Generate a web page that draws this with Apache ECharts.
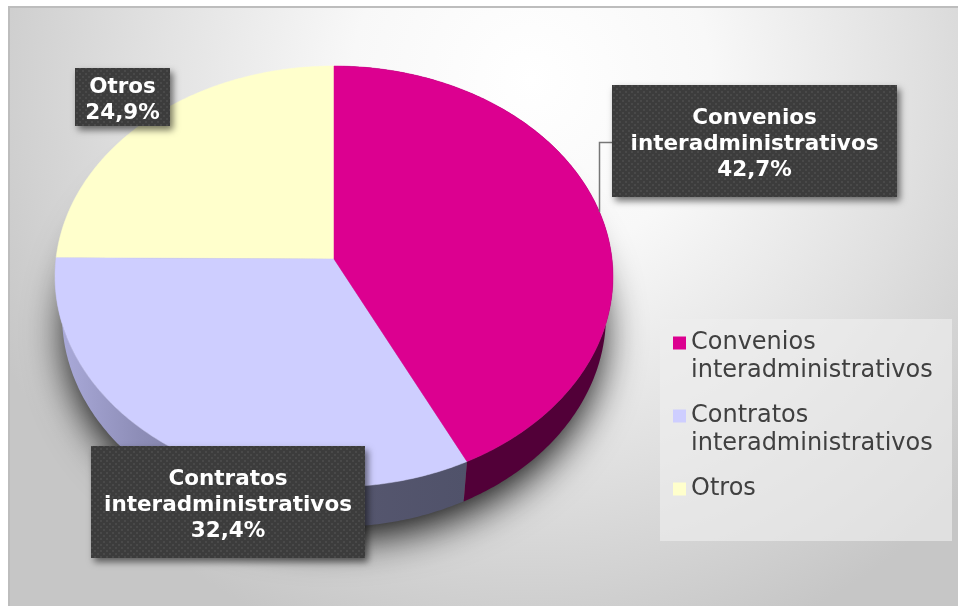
<!DOCTYPE html>
<html>
<head>
<meta charset="utf-8">
<style>html,body{margin:0;padding:0;background:#fff}#c{width:958px;height:606px}</style>
<script src="https://cdn.jsdelivr.net/npm/echarts@6/dist/echarts.min.js"></script>
</head>
<body>
<div id="c"></div>
<script>
const categories = ['Convenios interadministrativos', 'Contratos interadministrativos', 'Otros'];
const legendNames = ['Convenios\ninteradministrativos', 'Contratos\ninteradministrativos', 'Otros'];
const labelNames = ['Convenios\ninteradministrativos', 'Contratos\ninteradministrativos', 'Otros'];
const shares = [42.7, 32.4, 24.9];
const faceColors = ['#DC0090', '#CECEFF', '#FFFFCC'];

// Layout (separate from the data)
const labelBoxes = [[612, 85, 285, 112], [91, 446, 274, 112], [75, 68, 95, 58]];
const PX = 334, PY = 259, RX = 278, TILT = 0.0831, A = 187.5;
const FONT = '"DejaVu Sans", Verdana, sans-serif';

const chart = echarts.init(document.getElementById('c'), null, {renderer: 'canvas'});

function makeDots() {
  const cv = document.createElement('canvas');
  cv.width = 6; cv.height = 6;
  const g = cv.getContext('2d');
  g.fillStyle = '#3c3c3c'; g.fillRect(0, 0, 6, 6);
  g.fillStyle = '#494949';
  g.fillRect(1, 1, 2, 2);
  g.fillRect(4, 4, 2, 2);
  return cv;
}
const dots = makeDots();

// Maps a pie angle (radians clockwise from top) to the tilted top face.
function facePoint(t) {
  const u = Math.sin(t), v = Math.cos(t), d = 1 + TILT * v;
  return [PX + RX * u / d, (-A * v + PY) / d];
}
// The lower rim is a slightly smaller ellipse, further from the viewer.
function rim(p) {
  return [PX + (p[0] - PX) * 272 / 279, 315 + (p[1] - 276) * 212 / 211];
}
function arc(a, b) {
  const n = Math.max(2, Math.ceil(Math.abs(b - a) * 90)), out = [];
  for (let i = 0; i <= n; i++) out.push(facePoint(a + (b - a) * i / n));
  return out;
}
const total = shares.reduce((s, x) => s + x, 0);

function sideFill(i) {
  if (i === 0) return '#520038';
  if (i === 1) return new echarts.graphic.LinearGradient(0, 0, 1, 0, [
    {offset: 0, color: '#ACACDC'}, {offset: 0.2, color: '#8E8EB8'},
    {offset: 0.55, color: '#6C6C8C'}, {offset: 0.75, color: '#55566E'}, {offset: 1, color: '#50526A'}
  ]);
  return '#999966';
}

function makeRender(i) {
  return function (params, api) {
    const value = api.value(0);
    let before = 0;
    for (let k = 0; k < i; k++) before += shares[k];
    const a = before / total * 2 * Math.PI;
    const b = (before + value) / total * 2 * Math.PI;
    const edge = arc(a, b);
    const children = [];
    if (i < 2) {
      children.push({
        type: 'polygon', z2: 1,
        shape: {points: edge.concat(edge.slice().reverse().map(rim))},
        style: {fill: sideFill(i)}
      });
    }
    children.push({
      type: 'polygon', z2: 2,
      shape: {points: [[PX, PY]].concat(edge)},
      style: {fill: faceColors[i], stroke: faceColors[i], lineWidth: 0.5}
    });
    const box = labelBoxes[i];
    if (i === 0) {
      children.push({
        type: 'polyline', z2: 5,
        shape: {points: [[box[0], 142.5], [599.5, 142.5], [599.5, 212]]},
        style: {fill: null, stroke: '#777777', lineWidth: 1.5}
      });
    }
    children.push({
      type: 'rect', z2: 10,
      shape: {x: box[0], y: box[1], width: box[2], height: box[3]},
      style: {
        fill: {image: dots, repeat: 'repeat'},
        shadowColor: 'rgba(0,0,0,0.55)', shadowBlur: 7, shadowOffsetX: 3, shadowOffsetY: 4
      }
    });
    children.push({
      type: 'text', z2: 11,
      x: box[0] + box[2] / 2, y: box[1] + box[3] / 2 + 3,
      style: {
        text: labelNames[i] + '\n' + value.toFixed(1).replace('.', ',') + '%',
        fill: '#ffffff', font: 'bold 21.5px ' + FONT,
        align: 'center', verticalAlign: 'middle', lineHeight: 26
      }
    });
    return {type: 'group', children: children};
  };
}

const series = categories.map((c, i) => ({
  type: 'custom',
  name: legendNames[i],
  coordinateSystem: 'none',
  z: i === 2 ? 3 : (i === 1 ? 4 : 5),
  itemStyle: {color: faceColors[i]},
  data: [[shares[i]]],
  renderItem: makeRender(i),
  silent: true
}));

chart.setOption({
  animation: false,
  graphic: [
    {type: 'rect', z: -3, shape: {x: 8, y: 6, width: 950, height: 600},
      style: {fill: '#bdbdbd'}},
    {type: 'rect', z: -2, shape: {x: 10, y: 8, width: 948, height: 598},
      style: {fill: new echarts.graphic.RadialGradient(0.55, 0.12, 1, [
        {offset: 0, color: '#ffffff'}, {offset: 0.3, color: '#f8f8f8'},
        {offset: 0.65, color: '#e0e0e0'}, {offset: 1, color: '#c6c6c6'}])}},
    {type: 'ellipse', z: -1, shape: {cx: 334, cy: 318, rx: 268, ry: 207},
      style: {fill: '#777', shadowColor: 'rgba(0,0,0,0.95)', shadowBlur: 40, shadowOffsetY: 14}},
    {type: 'rect', z: 0, shape: {x: 660, y: 319, width: 292, height: 222},
      style: {fill: 'rgba(238,238,238,0.65)'}}
  ],
  legend: {
    orient: 'vertical', left: 673, top: 301, padding: 0,
    itemWidth: 13, itemHeight: 13, itemGap: -11, icon: 'rect', selectedMode: false,
    textStyle: {fontFamily: FONT, fontSize: 24, color: '#404040', lineHeight: 28},
    formatter: name => name.indexOf('\n') >= 0 ? '\n' + name : '\n' + name + '\n',
    data: legendNames
  },
  series: series
});
</script>
</body>
</html>
